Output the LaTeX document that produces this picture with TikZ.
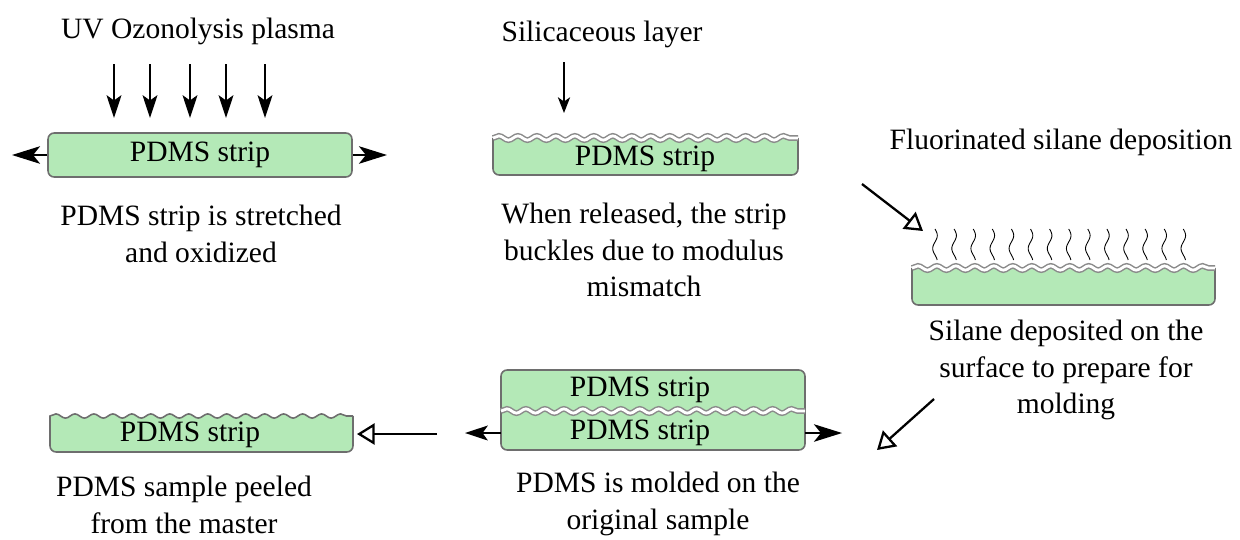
\documentclass[tikz,border=0pt]{standalone}
\usepackage{fontspec}
\setmainfont{Liberation Serif}
\usetikzlibrary{arrows.meta,decorations.pathmorphing}

\definecolor{pdmsgreen}{RGB}{180,233,183}
\definecolor{pdmsedge}{RGB}{110,110,110}

\tikzset{
  lbl/.style={font=\fontsize{16.8}{20.7}\selectfont, align=center, inner sep=0pt},
  strip/.style={draw=pdmsedge, fill=pdmsgreen, line width=0.9pt},
  wave/.style={decorate, decoration={snake, amplitude=1.2pt, segment length=10.8pt}},
  layer/.style={wave, draw=pdmsedge!80, line width=0.85pt, double=white, double distance=1.6pt},
  push/.style={-{Stealth[length=13pt, width=8.5pt, inset=3pt]}, line width=0.8pt},
  pull/.style={-{Stealth[length=16pt, width=10pt, inset=4pt]}, line width=0.8pt},
  step arrow/.style={-{Triangle[open, length=10pt, width=12pt]}, line width=1.3pt},
}

\begin{document}
\begin{tikzpicture}[x=0.02cm, y=-0.02cm]
\useasboundingbox (0,0) rectangle (1240,539);

% stretched strip under the plasma
\node[lbl] (uvlabel) at (198,31) {UV Ozonolysis plasma};
\foreach \x [count=\i] in {114,150,190,226,265} {
  \coordinate (uvtop\i) at (\x,64);
  \coordinate (uvtip\i) at (\x,118);
  \draw[push] (uvtop\i) -- (uvtip\i);
}
\node[strip, rounded corners=3.5pt, minimum width=6.08cm, minimum height=0.88cm] (s1) at (200,155) {};
\node[lbl] (s1txt) at (s1) {PDMS strip};
\coordinate (s1l) at (12,155);
\coordinate (s1r) at (387,155);
\draw[pull] (s1.west) -- (s1l);
\draw[pull] (s1.east) -- (s1r);
\node[lbl] (cap1) at (201,234) {PDMS strip is stretched\\and oxidized};

% buckled strip with the silica skin
\node[lbl] (silabel) at (602,34) {Silicaceous layer};
\coordinate (sitop) at (564,62);
\coordinate (sitip) at (564,113);
\draw[push, -{Stealth[length=9pt, width=7pt, inset=2.5pt]}] (sitop) -- (sitip);
\filldraw[strip] (493,138) [rounded corners=3.5pt] -- (493,175) -- (798,175) [sharp corners] -- (798,138);
\draw[layer] (493,138) -- (798,138);
\node[lbl] (s2txt) at (645,159) {PDMS strip};
\node[lbl] (cap2) at (644,250) {When released, the strip\\buckles due to modulus\\mismatch};

% silane vapour on the wrinkled surface
\node[lbl] (fslabel) at (1061,142) {Fluorinated silane deposition};
\coordinate (fsfrom) at (862,184);
\coordinate (fsto) at (923,231);
\draw[step arrow] (fsfrom) -- (fsto);
\foreach \i in {0,...,13}
  \draw[line width=0.5pt] plot[domain=0:31, samples=25, smooth, variable=\t]
    ({935+19.1*\i+2.3*sin(\t*430/31)}, {229+\t});
\filldraw[strip] (912,268) [rounded corners=3.5pt] -- (912,305) -- (1215,305) [sharp corners] -- (1215,268);
\draw[layer] (912,268) -- (1215,268);
\node[lbl] (cap3) at (1066,370) {Silane deposited on the\\surface to prepare for\\molding};
\coordinate (mfrom) at (934,399);
\coordinate (mto) at (877,450);
\draw[step arrow] (mfrom) -- (mto);

% cast on the master
\filldraw[strip] (501,411) [rounded corners=3.5pt] -- (501,370) -- (805,370) [sharp corners] -- (805,411);
\filldraw[strip] (501,411) [rounded corners=3.5pt] -- (501,450) -- (805,450) [sharp corners] -- (805,411);
\draw[layer] (501,411) -- (805,411);
\node[lbl] (s4txt) at (640,390) {PDMS strip};
\node[lbl] (s5txt) at (640,433) {PDMS strip};
\coordinate (s5l) at (501,433);
\coordinate (s5r) at (805,433);
\coordinate (s5lt) at (465,433);
\coordinate (s5rt) at (842,433);
\draw[pull, -{Stealth[length=13pt, width=8.5pt, inset=3pt]}] (s5l) -- (s5lt);
\draw[pull] (s5r) -- (s5rt);
\node[lbl] (cap4) at (658,504) {PDMS is molded on the\\original sample};

% peeled replica
\coordinate (pfrom) at (437,434);
\coordinate (pto) at (357,434);
\draw[step arrow] (pfrom) -- (pto);
\filldraw[strip] (353,416) [rounded corners=3.5pt] -- (353,452) -- (50,452) [sharp corners] -- (50,416)
  decorate[wave] {-- (353,416)};
\node[lbl] (s6txt) at (190,435) {PDMS strip};
\node[lbl] (cap5) at (184,505) {PDMS sample peeled\\from the master};
\end{tikzpicture}
\end{document}
